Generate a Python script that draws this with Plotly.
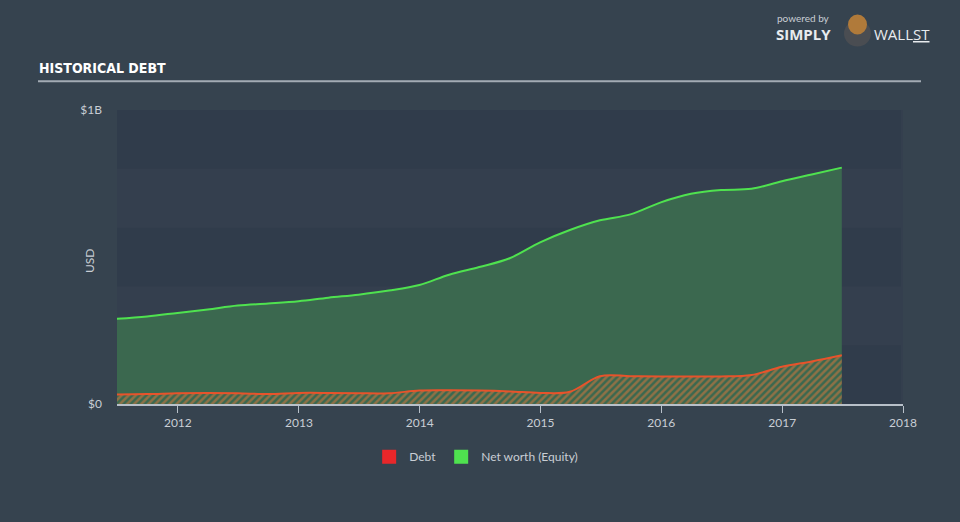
import plotly.graph_objects as go

dates = ["2011-06-30", "2011-09-30", "2011-12-31", "2012-03-31", "2012-06-30", "2012-09-30",
         "2012-12-31", "2013-03-31", "2013-06-30", "2013-09-30", "2013-12-31", "2014-03-31",
         "2014-06-30", "2014-09-30", "2014-12-31", "2015-03-31", "2015-06-30", "2015-09-30",
         "2015-12-31", "2016-03-31", "2016-06-30", "2016-09-30", "2016-12-31", "2017-03-31",
         "2017-06-30"]
equity = [0.290, 0.298, 0.310, 0.322, 0.335, 0.342, 0.350, 0.362, 0.372, 0.386, 0.405, 0.440,
          0.466, 0.496, 0.550, 0.592, 0.625, 0.645, 0.686, 0.715, 0.728, 0.732, 0.758, 0.781,
          0.804]
debt = [0.033, 0.034, 0.037, 0.038, 0.037, 0.034, 0.038, 0.038, 0.037, 0.037, 0.046, 0.047,
        0.046, 0.043, 0.038, 0.042, 0.095, 0.095, 0.094, 0.094, 0.094, 0.099, 0.127, 0.145,
        0.166]
equity = [v * 1e9 for v in equity]
debt = [v * 1e9 for v in debt]

year_ticks = ["2012-01-01", "2013-01-01", "2014-01-01", "2015-01-01", "2016-01-01",
              "2017-01-01", "2018-01-01"]
year_labels = ["2012", "2013", "2014", "2015", "2016", "2017", "2018"]
y_ticks = [0, 1e9]
y_labels = ["$0", "$1B"]

BG = "#36434f"
PLOT_BG = "#343f4e"
BAND = "#303c4b"
TXT = "#c9ced5"
FONT = "Lato"

# pixel helpers for paper coordinates (plot area: x 117..903, y 110..406)
def px(x):
    return (x - 117) / 786

def py(y):
    return (406 - y) / 296

fig = go.Figure()
fig.add_trace(go.Scatter(
    x=dates, y=equity, mode="lines", line=dict(color="#4fe24f", width=2, shape="spline"),
    fill="tozeroy", fillcolor="rgba(60,110,80,0.88)", showlegend=False, hoverinfo="skip"))
fig.add_trace(go.Scatter(
    x=dates, y=debt, mode="lines", line=dict(color="#e8532b", width=2, shape="spline"),
    fill="tozeroy", fillcolor="rgba(0,0,0,0)",
    fillpattern=dict(shape="/", fgcolor="#e27a3e", bgcolor="rgba(0,0,0,0)",
                     size=5, solidity=0.5),
    showlegend=False, hoverinfo="skip"))
fig.add_trace(go.Scatter(x=[None], y=[None], mode="markers", name="Debt",
                         marker=dict(symbol="square", size=14, color="#e8272a")))
fig.add_trace(go.Scatter(x=[None], y=[None], mode="markers", name="Net worth (Equity)",
                         marker=dict(symbol="square", size=14, color="#4fe24f")))

shapes = []
for lo, hi in [(0, 0.2e9), (0.4e9, 0.6e9), (0.8e9, 1.0e9)]:
    shapes.append(dict(type="rect", xref="paper", yref="y", x0=0, x1=px(901), y0=lo, y1=hi,
                       fillcolor=BAND, line=dict(width=0), layer="below"))
shapes.append(dict(type="line", xref="paper", yref="paper", x0=px(38), x1=px(921),
                   y0=py(81), y1=py(81), line=dict(color="#a3abb4", width=2)))
# logo emblem
shapes.append(dict(type="circle", xref="paper", yref="paper", x0=px(844), x1=px(871),
                   y0=py(46), y1=py(20), fillcolor="#4a4d52", line=dict(width=0)))
shapes.append(dict(type="circle", xref="paper", yref="paper", x0=px(848), x1=px(867),
                   y0=py(34), y1=py(14), fillcolor="#b07a3a", line=dict(width=0)))

fig.update_layout(
    width=960, height=522,
    margin=dict(l=117, r=57, t=110, b=116),
    paper_bgcolor=BG, plot_bgcolor=PLOT_BG,
    font=dict(family=FONT, color=TXT, size=12),
    shapes=shapes,
    xaxis=dict(type="date", range=["2011-07-01", "2018-01-01"], tickvals=year_ticks,
               ticktext=year_labels, showgrid=False, zeroline=False, showline=True,
               linecolor="#b8c0c9", linewidth=1.5, ticks="outside", ticklen=7,
               tickcolor="#b8c0c9", tickfont=dict(size=12, color=TXT, family=FONT)),
    yaxis=dict(range=[0, 1e9], tickvals=y_ticks, ticktext=y_labels, showgrid=False,
               zeroline=False, showline=False, ticks="", ticklabelstandoff=14,
               tickfont=dict(size=12, color=TXT, family=FONT)),
    legend=dict(orientation="h", xref="container", yref="container", x=0.496, y=0.125,
                xanchor="center", yanchor="middle", font=dict(size=12, color=TXT, family=FONT),
                itemwidth=30, bgcolor="rgba(0,0,0,0)"),
    annotations=[
        dict(text="USD", xref="paper", yref="paper", x=px(89), y=py(262), textangle=-90,
             xanchor="center", yanchor="middle", showarrow=False,
             font=dict(family=FONT, size=12, color=TXT)),
        dict(text="<b>HISTORICAL DEBT</b>", xref="paper", yref="paper",
             x=px(37), y=py(68), xanchor="left", yanchor="middle", showarrow=False,
             font=dict(family="DejaVu Sans Condensed", size=14, color="#ffffff")),
        dict(text="powered by", xref="paper", yref="paper", x=px(775),
             y=py(17), xanchor="left", yanchor="middle", showarrow=False,
             font=dict(family=FONT, size=10, color="#c9ced5")),
        dict(text="<b>SIMPLY</b>", xref="paper", yref="paper", x=px(774),
             y=py(34), xanchor="left", yanchor="middle", showarrow=False,
             font=dict(family="Open Sans", size=15, color="#e8ebee")),
        dict(text="WALL<u>ST</u>", xref="paper", yref="paper", x=px(872),
             y=py(34), xanchor="left", yanchor="middle", showarrow=False,
             font=dict(family="Open Sans", size=15, color="#e8ebee")),
    ],
)

fig.write_html("out.html")
